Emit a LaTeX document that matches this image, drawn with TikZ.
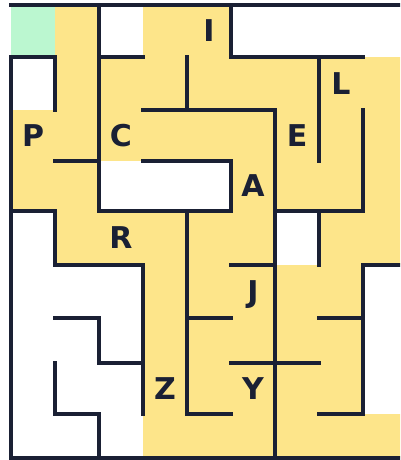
\documentclass[tikz,border=0pt]{standalone}
\usepackage{fontspec}
\setsansfont{DejaVu Sans}
\usepackage{tikz}
\definecolor{mazeline}{RGB}{26,32,52}
\definecolor{mazepath}{RGB}{253,229,138}
\definecolor{mazestart}{RGB}{187,247,208}
\tikzstyle{wall} = [draw=mazeline, line width=4pt, line cap=rect]
\tikzstyle{visited} = [fill=mazepath]
\tikzstyle{startcell} = [fill=mazestart]
\tikzstyle{cellname} = [text=mazeline, inner sep=0pt,
font=\sffamily\bfseries\fontsize{30}{36}\selectfont,
text height=21.9pt, text depth=0pt]
% row borders are not evenly spaced
\def\rowy{{5,56.7,110,161,211,265,318.3,362.7,414.3,457.7}}

\begin{document}
\begin{tikzpicture}[x=1pt, y=-1pt]
    \useasboundingbox (0,0) rectangle (400,460);
    \clip (0,0) rectangle (400,460);

    \fill[startcell] (11,5) rectangle (55,56.7);
    \foreach \r/\cols in {0/{1,3,4}, 1/{1,...,8}, 2/{0,...,8},
        3/{0,1,5,6,7,8}, 4/{1,2,3,4,5,7,8}, 5/{3,...,7},
        6/{3,...,7}, 7/{3,...,7}, 8/{3,...,8}} {
        \foreach \c in \cols {
            \pgfmathsetmacro\xa{11+44*\c}
            \pgfmathsetmacro\ya{\rowy[\r]}
            \pgfmathsetmacro\yb{\rowy[\r+1]}
            \fill[visited] (\xa,\ya) rectangle (\xa+44,\yb);
        }
    }

    \foreach \ca/\ra/\cb/\rb in {0/0/9/0, 0/1/0/9, 0/9/9/9, 9/0/9/9,
        2/0/2/4, 5/0/5/1, 0/1/1/1, 1/1/1/2, 2/1/3/1, 4/1/4/2,
        5/1/8/1, 7/1/7/3, 3/2/6/2, 6/2/6/9, 8/2/8/4, 1/3/2/3,
        3/3/5/3, 5/3/5/4, 0/4/1/4, 1/4/1/5, 2/4/5/4, 4/4/4/8,
        6/4/8/4, 7/4/7/5, 1/5/3/5, 3/5/3/8, 5/5/6/5, 8/5/9/5,
        8/5/8/8, 1/6/2/6, 2/6/2/7, 2/7/3/7, 4/6/5/6, 7/6/8/6,
        5/7/7/7, 1/7/1/8, 1/8/2/8, 2/8/2/9, 4/8/5/8, 7/8/8/8} {
        \pgfmathsetmacro\xa{11+44*\ca}
        \pgfmathsetmacro\xb{11+44*\cb}
        \pgfmathsetmacro\ya{\rowy[\ra]}
        \pgfmathsetmacro\yb{\rowy[\rb]}
        \draw[wall] (\xa,\ya) -- (\xb,\yb);
    }

    \foreach \name/\c/\r in {P/0/2, C/2/2, I/4/0, E/6/2, L/7/1,
        A/5/3, R/2/4, J/5/5, Z/3/7, Y/5/7} {
        \pgfmathsetmacro\xm{33+44*\c}
        \pgfmathsetmacro\ya{\rowy[\r]}
        \pgfmathsetmacro\yb{\rowy[\r+1]}
        \node[cellname] (cell\name) at (\xm,{(\ya+\yb)/2}) {\name};
    }
\end{tikzpicture}
\end{document}
